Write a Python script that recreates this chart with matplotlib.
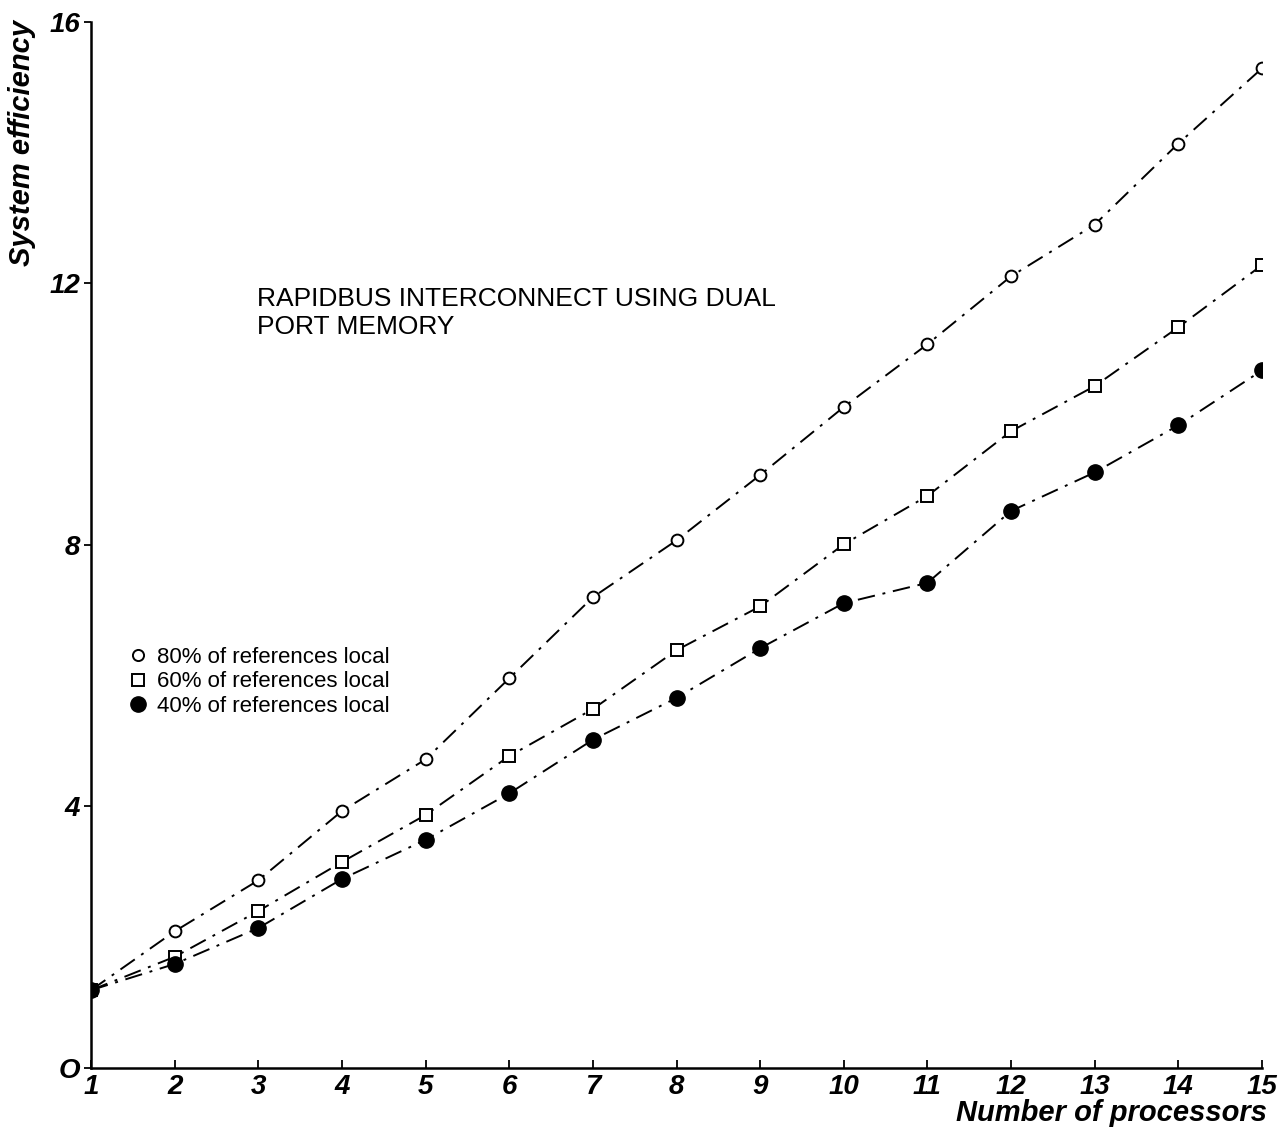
import matplotlib
matplotlib.use("Agg")
import matplotlib.pyplot as plt
from matplotlib.lines import Line2D

# ---------------- DATA ----------------
processors = [1, 2, 3, 4, 5, 6, 7, 8, 9, 10, 11, 12, 13, 14, 15]
eff_80 = [1.19, 2.09, 2.87, 3.93, 4.72, 5.96, 7.20, 8.07, 9.07, 10.11, 11.07, 12.11, 12.90, 14.14, 15.29]
eff_60 = [1.19, 1.70, 2.40, 3.15, 3.87, 4.77, 5.49, 6.39, 7.06, 8.01, 8.75, 9.74, 10.43, 11.33, 12.28]
eff_40 = [1.19, 1.59, 2.14, 2.89, 3.49, 4.20, 5.02, 5.66, 6.42, 7.11, 7.42, 8.52, 9.11, 9.83, 10.67]
series_labels = ["80% of references local", "60% of references local", "40% of references local"]
y_ticks = [0, 4, 8, 12, 16]
y_tick_labels = ["O", "4", "8", "12", "16"]

plt.rcParams["font.family"] = ["Liberation Sans", "DejaVu Sans"]

fig = plt.figure(figsize=(12.86, 11.27), dpi=100)
ax = fig.add_axes([0.0708, 0.0524, 0.9105, 0.9281])

dash = (0, (9, 4, 1.5, 4))
ax.plot(processors, eff_80, color="black", lw=1.4, linestyle=dash,
        marker="o", markersize=8.5, markerfacecolor="white", markeredgecolor="black", markeredgewidth=1.4)
ax.plot(processors, eff_60, color="black", lw=1.4, linestyle=dash,
        marker="s", markersize=8.5, markerfacecolor="white", markeredgecolor="black", markeredgewidth=1.4)
ax.plot(processors, eff_40, color="black", lw=1.4, linestyle=dash,
        marker="o", markersize=11, markerfacecolor="black", markeredgecolor="black")

ax.set_xlim(1, 15)
ax.set_ylim(0, 16)
ax.set_xticks(processors)
ax.set_yticks(y_ticks)
ax.set_yticklabels(y_tick_labels)
for lbl in ax.get_xticklabels() + ax.get_yticklabels():
    lbl.set_fontsize(20)
    lbl.set_fontweight("bold")
    lbl.set_fontstyle("italic")
ax.tick_params(axis="x", direction="in", length=6, width=1.3, pad=4)
ax.tick_params(axis="y", direction="out", length=5, width=1.3, pad=3)

for side in ["top", "right"]:
    ax.spines[side].set_visible(False)
for side in ["left", "bottom"]:
    ax.spines[side].set_linewidth(1.8)

# axis labels
fig.text(0.017, 0.982, "System efficiency", rotation=90, ha="center", va="top",
         fontsize=21, fontweight="bold", fontstyle="italic")
fig.text(0.985, 0.012, "Number of processors", ha="right", va="center",
         fontsize=21, fontweight="bold", fontstyle="italic")

# annotation
ax.text(2.99, 11.95, "RAPIDBUS INTERCONNECT USING DUAL\nPORT MEMORY", ha="left", va="top",
        fontsize=19, linespacing=1.22)

# legend
handles = [
    Line2D([], [], linestyle="none", marker="o", markersize=8, markerfacecolor="white",
           markeredgecolor="black", markeredgewidth=1.4),
    Line2D([], [], linestyle="none", marker="s", markersize=8, markerfacecolor="white",
           markeredgecolor="black", markeredgewidth=1.4),
    Line2D([], [], linestyle="none", marker="o", markersize=11, markerfacecolor="black",
           markeredgecolor="black"),
]
ax.legend(handles, series_labels, loc="upper left", bbox_to_anchor=(0.024, 0.413),
          frameon=False, fontsize=16, handlelength=0.7, handletextpad=0.5,
          labelspacing=0.15, borderpad=0)

fig.savefig("out.png", dpi=100)
